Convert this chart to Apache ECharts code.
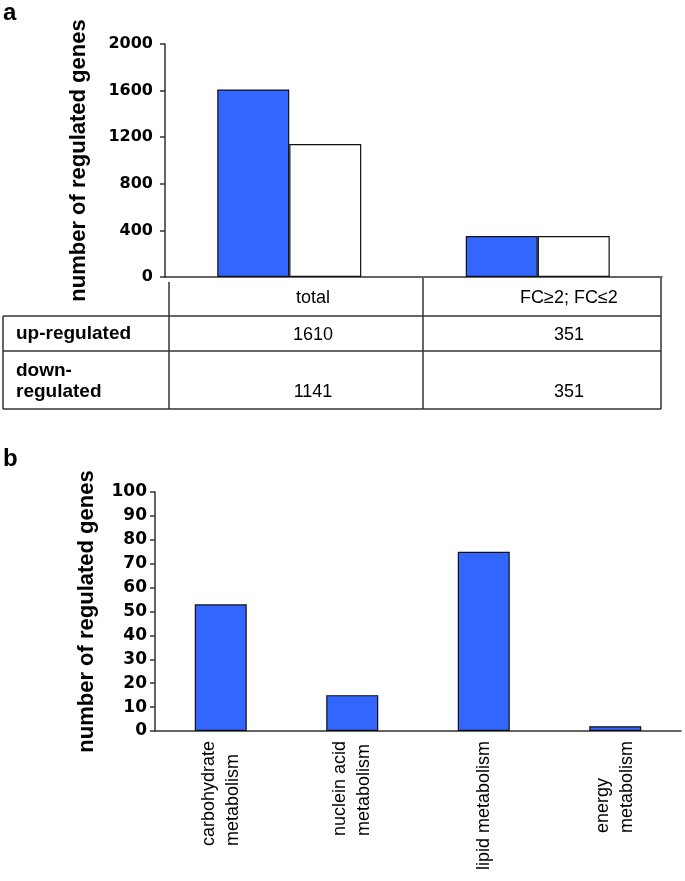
<!DOCTYPE html>
<html>
<head>
<meta charset="utf-8">
<script src="https://cdn.jsdelivr.net/npm/echarts@6/dist/echarts.min.js"></script>
<style>
html,body{margin:0;padding:0;background:#fff;}
#main{width:685px;height:881px;}
</style>
</head>
<body>
<div id="main"></div>
<script>
// ---- data ----
var panelACategories = ['total', 'FC\u22652; FC\u22642'];
var upRegulated = [1610, 351];
var downRegulated = [1141, 351];
var tableRowLabels = ['up-regulated', 'down-\nregulated'];
var panelATicks = [0, 400, 800, 1200, 1600, 2000];

var panelBCategories = ['carbohydrate\nmetabolism', 'nuclein acid\nmetabolism', 'lipid metabolism', 'energy\nmetabolism'];
var panelBValues = [53, 15, 75, 2];
var panelBTicks = [0, 10, 20, 30, 40, 50, 60, 70, 80, 90, 100];

var yTitle = 'number of regulated genes';

// ---- style / layout ----
var ARIAL = '"Liberation Sans", Arial, sans-serif';
var DEJAVU = '"DejaVu Sans", sans-serif';
var BLUE = '#3366ff';
var LINE = '#333';

var chart = echarts.init(document.getElementById('main'), null, {renderer: 'canvas'});

function yAxisCommon(ticks, fontSize, gap, margin) {
  return {
    type: 'value',
    min: ticks[0],
    max: ticks[ticks.length - 1],
    interval: ticks[1] - ticks[0],
    name: yTitle,
    nameLocation: 'middle',
    nameGap: gap,
    nameRotate: 90,
    nameTextStyle: {fontFamily: ARIAL, fontWeight: 'bold', fontSize: 22, color: '#000'},
    axisLine: {show: true, lineStyle: {color: LINE, width: 1.5}},
    axisTick: {show: true, inside: false, length: 5, lineStyle: {color: LINE, width: 1.5}},
    axisLabel: {fontFamily: DEJAVU, fontWeight: 'bold', fontSize: fontSize, color: '#000', margin: margin,
      formatter: function (v) { return String(v); }},
    splitLine: {show: false}
  };
}

var gA = {left: 165, top: 44, width: 497, height: 233};
var gB = {left: 155, top: 492, width: 526, height: 239};

// table layout
var tTop = 316, tMid = 351, tBot = 409, tLeft = 3;
var colLines = [169, 423, 661];
var colTextX = [313, 569];

var graphics = [];
function hline(x1, x2, y) { graphics.push({type: 'line', shape: {x1: x1, y1: y, x2: x2, y2: y}, style: {stroke: LINE, lineWidth: 1.5}, silent: true}); }
function vline(x, y1, y2) { graphics.push({type: 'line', shape: {x1: x, y1: y1, x2: x, y2: y2}, style: {stroke: LINE, lineWidth: 1.5}, silent: true}); }
function txt(t, x, y, font, align, lh) {
  graphics.push({type: 'text', x: x, y: y, silent: true,
    style: {text: t, font: font, fill: '#000', align: align || 'center', verticalAlign: 'middle', lineHeight: lh || 22}});
}
hline(tLeft, colLines[2], tTop);
hline(tLeft, colLines[2], tMid);
hline(tLeft, colLines[2], tBot);
vline(tLeft, tTop, tBot);
vline(colLines[0], 282, tBot);
vline(colLines[1], 278, tBot);
vline(colLines[2], 278, tBot);
panelACategories.forEach(function (c, i) {
  txt(c, colTextX[i], 298, '18px ' + ARIAL);
  txt(String(upRegulated[i]), colTextX[i], 335, '18px ' + ARIAL);
  txt(String(downRegulated[i]), colTextX[i], 392, '18px ' + ARIAL);
});
txt(tableRowLabels[0], 16, 334, 'bold 19px ' + ARIAL, 'left');
txt(tableRowLabels[1], 16, 381, 'bold 19px ' + ARIAL, 'left', 21);
txt('a', 3, 13, 'bold 24px ' + ARIAL, 'left');
txt('b', 3, 459, 'bold 24px ' + ARIAL, 'left');

var option = {
  backgroundColor: '#fff',
  animation: false,
  grid: [
    Object.assign({containLabel: false}, gA),
    Object.assign({containLabel: false}, gB)
  ],
  xAxis: [
    {
      type: 'category', gridIndex: 0, data: panelACategories,
      axisLine: {show: true, lineStyle: {color: LINE, width: 1.5}},
      axisTick: {show: false}, axisLabel: {show: false}, splitLine: {show: false}
    },
    {
      type: 'category', gridIndex: 1, data: panelBCategories,
      axisLine: {show: true, lineStyle: {color: LINE, width: 1.5}},
      axisTick: {show: false}, splitLine: {show: false},
      axisLabel: {
        interval: 0, rotate: 90, margin: 10, color: '#000',
        fontFamily: ARIAL, fontSize: 18, lineHeight: 24,
        formatter: function (v) { return v.split('\n').map(function (s) { return '{a|' + s + '}'; }).join('\n'); },
        rich: {a: {align: 'left', fontFamily: ARIAL, fontSize: 18, lineHeight: 24, color: '#000'}}
      }
    }
  ],
  yAxis: [
    Object.assign({gridIndex: 0}, yAxisCommon(panelATicks, 16, 75, 12)),
    Object.assign({gridIndex: 1}, yAxisCommon(panelBTicks, 17, 57, 8))
  ],
  series: [
    {
      name: 'up-regulated', type: 'bar', xAxisIndex: 0, yAxisIndex: 0,
      data: upRegulated, barWidth: 72, barGap: '0%',
      itemStyle: {color: BLUE, borderColor: '#111', borderWidth: 1.2}
    },
    {
      name: 'down-regulated', type: 'bar', xAxisIndex: 0, yAxisIndex: 0,
      data: downRegulated, barWidth: 72, barGap: '0%',
      itemStyle: {color: '#fff', borderColor: '#111', borderWidth: 1.2}
    },
    {
      name: 'metabolism', type: 'bar', xAxisIndex: 1, yAxisIndex: 1,
      data: panelBValues, barWidth: 52,
      itemStyle: {color: BLUE, borderColor: '#111', borderWidth: 1.2}
    }
  ],
  graphic: graphics
};
chart.setOption(option);
</script>
</body>
</html>
